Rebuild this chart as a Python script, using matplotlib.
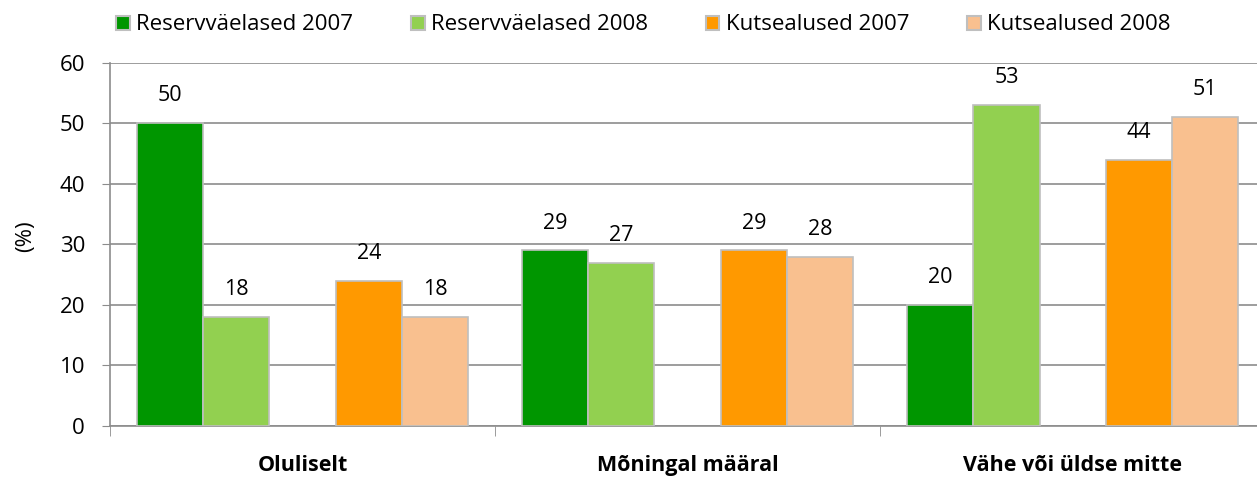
import numpy as np
import matplotlib.pyplot as plt
from matplotlib.patches import Patch

plt.rcParams['font.family'] = ['Open Sans', 'DejaVu Sans']

categories = ['Oluliselt', 'Mõningal määral', 'Vähe või üldse mitte']
series_names = ['Reservväelased 2007', 'Reservväelased 2008',
                'Kutsealused 2007', 'Kutsealused 2008']
res2007 = [50, 29, 20]
res2008 = [18, 27, 53]
kut2007 = [24, 29, 44]
kut2008 = [18, 28, 51]
colors = ['#009600', '#92D050', '#FF9900', '#F9C08F']

fig = plt.figure(figsize=(12.57, 4.8), dpi=100)
# the plot area runs a bit past the right edge, as in the original
ax = fig.add_axes([0.0875, 0.1125, 0.919, 0.7565])

x = np.arange(len(categories))
w = 0.172
slots = [-2, -1, 1, 2]  # middle slot left empty
for vals, slot, col in zip([res2007, res2008, kut2007, kut2008], slots, colors):
    bars = ax.bar(x + slot * w, vals, width=w, color=col,
                  edgecolor='#BFBFBF', linewidth=1.2, zorder=3)
    for b, v in zip(bars, vals):
        ax.text(b.get_x() + b.get_width() / 2, v + 2.8, str(v),
                ha='center', va='bottom', fontsize=15.5)

ax.set_xlim(-0.5, 2.5)
ax.set_ylim(0, 60)
ax.set_yticks(range(0, 61, 10))
ax.yaxis.grid(True, color='#8C8C8C', linewidth=1.2, zorder=0)
ax.set_ylabel('(%)', fontsize=16)
ax.yaxis.set_label_coords(-0.064, 0.523)
ax.tick_params(axis='y', labelsize=16, length=6, color='#8C8C8C', pad=12)

ax.set_xticks(x)
ax.set_xticklabels(categories, fontsize=15.5, fontweight='bold')
ax.tick_params(axis='x', length=0, pad=21)
ax.set_xticks([-0.5, 0.5, 1.5, 2.5], minor=True)
ax.tick_params(axis='x', which='minor', length=7, color='#8C8C8C')

for s in ['top', 'right']:
    ax.spines[s].set_visible(False)
for s in ['left', 'bottom']:
    ax.spines[s].set_color('#8C8C8C')
    ax.spines[s].set_linewidth(1.2)

handles = [Patch(facecolor=c, edgecolor='#BFBFBF', linewidth=1.5) for c in colors]
fig.legend(handles, series_names, loc='center', ncol=4, frameon=False,
           fontsize=16, bbox_to_anchor=(0.512, 0.948), handlelength=0.6,
           handleheight=0.6, handletextpad=0.3, columnspacing=2.6)

fig.savefig('out.png', dpi=100)
